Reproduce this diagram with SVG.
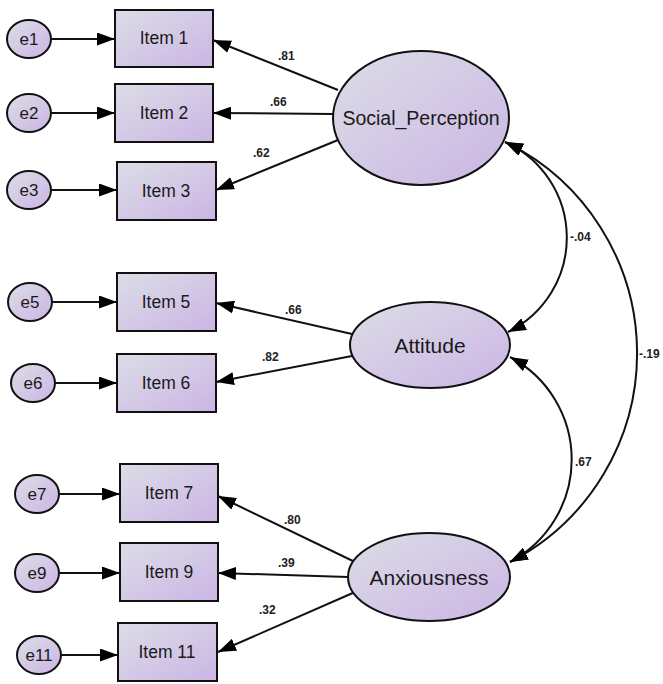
<svg xmlns="http://www.w3.org/2000/svg" width="663" height="684" viewBox="0 0 663 684">
<defs>
<linearGradient id="g" x1="0" y1="0" x2="1" y2="1">
<stop offset="0" stop-color="#dcdde6"/>
<stop offset="1" stop-color="#cbb5e5"/>
</linearGradient>
<marker id="ah" viewBox="0 0 18 13" refX="18" refY="6.5" markerWidth="18" markerHeight="13" markerUnits="userSpaceOnUse" orient="auto-start-reverse">
<path d="M0,0 L18,6.5 L0,13 z" fill="#000"/>
</marker>
<style>
.n{fill:url(#g);stroke:#111;stroke-width:2}
.c{stroke:#111;stroke-width:2;fill:none}
.a{marker-end:url(#ah)}
.b{marker-start:url(#ah);marker-end:url(#ah)}
.t{font-family:"Liberation Sans",Arial,sans-serif;fill:#1a1a1a;text-anchor:middle;dominant-baseline:central}
.it{font-size:17.5px}
.er{font-size:17px}
.lb{font-family:"Liberation Sans",Arial,sans-serif;font-size:12px;font-weight:bold;fill:#222}
</style>
</defs>
<g id="connectors">
<line class="c a" x1="51" y1="39" x2="115" y2="39"/>
<line class="c a" x1="51" y1="113" x2="115" y2="113"/>
<line class="c a" x1="51" y1="190" x2="117" y2="190"/>
<line class="c a" x1="52" y1="302" x2="117" y2="302"/>
<line class="c a" x1="55" y1="383" x2="117" y2="383"/>
<line class="c a" x1="59" y1="494" x2="120" y2="494"/>
<line class="c a" x1="59" y1="573" x2="120" y2="573"/>
<line class="c a" x1="61" y1="655" x2="118" y2="655"/>
<line class="c a" x1="338" y1="90" x2="213" y2="40"/>
<line class="c a" x1="333" y1="114" x2="213" y2="113"/>
<line class="c a" x1="338" y1="140" x2="216" y2="190"/>
<line class="c a" x1="352" y1="334" x2="216" y2="303"/>
<line class="c a" x1="352" y1="356" x2="216" y2="382"/>
<line class="c a" x1="355" y1="562" x2="218" y2="496"/>
<line class="c a" x1="348" y1="577" x2="218" y2="573"/>
<line class="c a" x1="355" y1="592" x2="218" y2="652"/>
<path class="c b" d="M505,142 A105,105 0 0 1 508,332"/>
<path class="c b" d="M510,357 A116,116 0 0 1 510,562"/>
<path class="c b" d="M505,142 A235,235 0 0 1 510,562"/>
<text class="lb" x="278" y="60">.81</text>
<text class="lb" x="270" y="106">.66</text>
<text class="lb" x="253" y="157">.62</text>
<text class="lb" x="285" y="314">.66</text>
<text class="lb" x="262" y="361">.82</text>
<text class="lb" x="284" y="524">.80</text>
<text class="lb" x="278" y="567">.39</text>
<text class="lb" x="259" y="614">.32</text>
<text class="lb" x="570" y="241">-.04</text>
<text class="lb" x="575" y="466">.67</text>
<text class="lb" x="639" y="358">-.19</text>
</g>
<g id="e1"><ellipse class="n" cx="29" cy="39" rx="22" ry="19"/><text class="t er" x="29" y="39">e1</text></g>
<g id="e2"><ellipse class="n" cx="29" cy="113" rx="22" ry="19"/><text class="t er" x="29" y="113">e2</text></g>
<g id="e3"><ellipse class="n" cx="29" cy="190" rx="22" ry="19"/><text class="t er" x="29" y="190">e3</text></g>
<g id="e5"><ellipse class="n" cx="30" cy="302" rx="22" ry="19"/><text class="t er" x="30" y="302">e5</text></g>
<g id="e6"><ellipse class="n" cx="33" cy="383" rx="22" ry="19"/><text class="t er" x="33" y="383">e6</text></g>
<g id="e7"><ellipse class="n" cx="37" cy="494" rx="22" ry="19"/><text class="t er" x="37" y="494">e7</text></g>
<g id="e9"><ellipse class="n" cx="37" cy="573" rx="22" ry="19"/><text class="t er" x="37" y="573">e9</text></g>
<g id="e11"><ellipse class="n" cx="39" cy="655" rx="22" ry="19"/><text class="t er" x="39" y="655">e11</text></g>
<g id="item1"><rect class="n" x="115" y="10" width="98" height="57"/><text class="t it" x="164" y="38">Item 1</text></g>
<g id="item2"><rect class="n" x="115" y="84" width="98" height="58"/><text class="t it" x="164" y="113">Item 2</text></g>
<g id="item3"><rect class="n" x="117" y="162" width="99" height="58"/><text class="t it" x="166" y="191">Item 3</text></g>
<g id="item5"><rect class="n" x="117" y="273" width="99" height="58"/><text class="t it" x="166" y="302">Item 5</text></g>
<g id="item6"><rect class="n" x="117" y="354" width="99" height="58"/><text class="t it" x="166" y="383">Item 6</text></g>
<g id="item7"><rect class="n" x="120" y="464" width="98" height="58"/><text class="t it" x="169" y="493">Item 7</text></g>
<g id="item9"><rect class="n" x="120" y="543" width="98" height="58"/><text class="t it" x="169" y="572">Item 9</text></g>
<g id="item11"><rect class="n" x="118" y="623" width="99" height="58"/><text class="t it" x="167" y="652">Item 11</text></g>
<g id="social_perception"><ellipse class="n" cx="421" cy="118" rx="88" ry="67"/><text class="t" style="font-size:19.5px" x="421" y="118">Social_Perception</text></g>
<g id="attitude"><ellipse class="n" cx="430" cy="345" rx="80" ry="43"/><text class="t" style="font-size:21px" x="430" y="345">Attitude</text></g>
<g id="anxiousness"><ellipse class="n" cx="429" cy="577" rx="81" ry="44"/><text class="t" style="font-size:21px" x="429" y="577">Anxiousness</text></g>
</svg>
